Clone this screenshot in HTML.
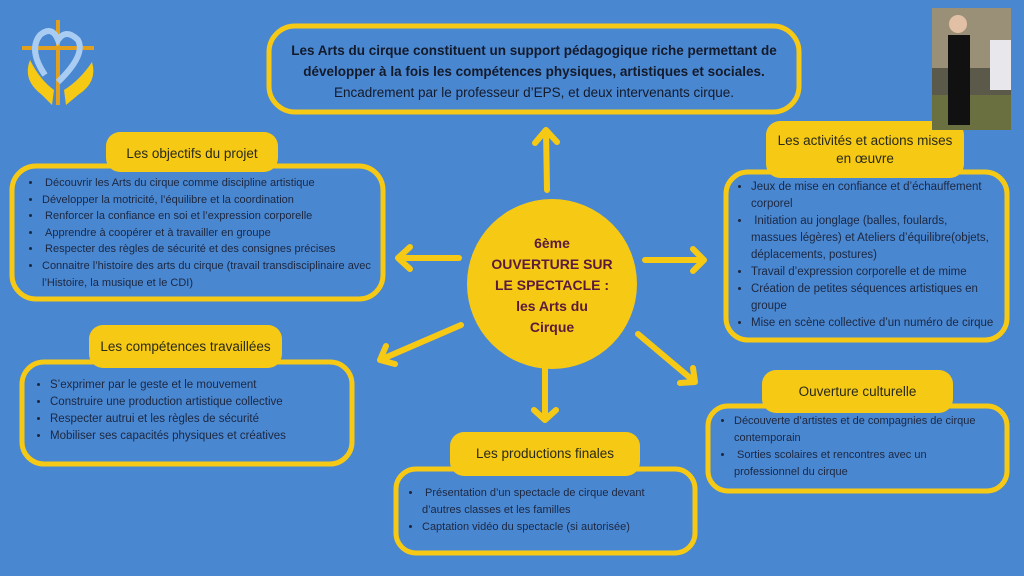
<!DOCTYPE html>
<html><head><meta charset="utf-8"><style>
body{margin:0;width:1024px;height:576px;background:#4a87d1;overflow:hidden;position:relative;font-family:"Liberation Sans","DejaVu Sans",sans-serif;}
svg{position:absolute;left:0;top:0}
.t{position:absolute;color:#1c2740;font-size:11px;line-height:17px}
.t ul{margin:0;padding:0 0 0 14px}
.t li{margin:0}
.h{position:absolute;color:#2a2a1a;font-size:13.5px;text-align:center;line-height:18px}
</style></head><body>
<svg width="1024" height="576">
<g fill="none" stroke="#f6c915" stroke-width="5">
<rect x="269" y="26" width="530" height="86" rx="26"/>
<rect x="12" y="166" width="371" height="133" rx="24"/>
<rect x="22" y="362" width="330" height="102" rx="22"/>
<rect x="396" y="469" width="299" height="84" rx="20"/>
<rect x="708" y="406" width="299" height="85" rx="20"/>
<rect x="726" y="172" width="281" height="168" rx="22"/>
</g>
<g fill="#f6c915">
<rect x="106" y="132" width="172" height="40" rx="14"/>
<rect x="89" y="325" width="193" height="43" rx="14"/>
<rect x="450" y="432" width="190" height="44" rx="14"/>
<rect x="762" y="370" width="191" height="43" rx="14"/>
<rect x="766" y="121" width="198" height="57" rx="14"/>
<circle cx="552" cy="284" r="85"/>
</g>
<g fill="none" stroke="#f6c915" stroke-width="6" stroke-linecap="round" stroke-linejoin="round">
<path d="M547 190 L546 130 M535 143 L546 130 L557 142"/>
<path d="M459 258 L398 258 M410 247 L398 258 L410 269"/>
<path d="M645 260 L704 260 M693 249 L704 260 L693 271"/>
<path d="M461 325 L380 360 M386 346 L380 360 L395 364"/>
<path d="M545 367 L545 420 M534 410 L545 420 L556 410"/>
<path d="M638 334 L695 382 M680 383 L695 382 L693 368"/>
</g>
<rect x="932" y="8" width="79" height="122" fill="#5b5a4a"/>
<rect x="932" y="8" width="79" height="60" fill="#9a8f77"/>
<rect x="932" y="95" width="79" height="35" fill="#6b7040"/>
<rect x="948" y="35" width="22" height="90" fill="#111"/>
<circle cx="958" cy="24" r="9" fill="#e2c0a5"/>
<rect x="990" y="40" width="21" height="50" fill="#e8e8ec"/>
<g>
<path d="M30 60 Q22 80 42 95 L52 105 L54 90 Q40 80 30 60Z" fill="#f6c915"/>
<path d="M92 62 Q98 82 78 95 L66 105 L64 90 Q80 80 92 62Z" fill="#f6c915"/>
<rect x="56" y="20" width="4" height="85" fill="#e3a01c"/>
<rect x="22" y="46" width="72" height="4" fill="#e3a01c"/>
<path d="M45 75 Q28 50 40 35 Q52 25 58 40 Q66 28 78 40 Q86 55 58 82" fill="none" stroke="#a9cdf2" stroke-width="6"/>
</g>
</svg>
<div class="h" style="left:272px;top:40px;width:524px;line-height:21px;color:#131a2a;font-size:13.5px"><b>Les Arts du cirque constituent un support pédagogique riche permettant de développer à la fois les compétences physiques, artistiques et sociales.</b><br>Encadrement par le professeur d’EPS, et deux intervenants cirque.</div>
<div class="h" style="left:106px;top:145px;width:172px">Les objectifs du projet</div>
<div class="h" style="left:89px;top:338px;width:193px">Les compétences travaillées</div>
<div class="h" style="left:450px;top:445px;width:190px">Les productions finales</div>
<div class="h" style="left:762px;top:383px;width:191px">Ouverture culturelle</div>
<div class="h" style="left:776px;top:132px;width:178px">Les activités et actions mises en œuvre</div>
<div class="h" style="left:467px;top:233px;width:170px;color:#5a1a3a;font-weight:bold;font-size:14px;line-height:21px">6ème<br>OUVERTURE SUR<br>LE SPECTACLE :<br>les Arts du<br>Cirque</div>
<div class="t" style="left:28px;top:175px;width:350px;line-height:16.6px"><ul>
<li>&nbsp;Découvrir les Arts du cirque comme discipline artistique</li>
<li>Développer la motricité, l’équilibre et la coordination</li>
<li>&nbsp;Renforcer la confiance en soi et l’expression corporelle</li>
<li>&nbsp;Apprendre à coopérer et à travailler en groupe</li>
<li>&nbsp;Respecter des règles de sécurité et des consignes précises</li>
<li>Connaitre l’histoire des arts du cirque (travail transdisciplinaire avec l’Histoire, la musique et le CDI)</li></ul></div>
<div class="t" style="left:36px;top:377px;width:310px;font-size:11.5px"><ul>
<li>S’exprimer par le geste et le mouvement</li>
<li>Construire une production artistique collective</li>
<li>Respecter autrui et les règles de sécurité</li>
<li>Mobiliser ses capacités physiques et créatives</li></ul></div>
<div class="t" style="left:408px;top:485px;width:262px"><ul>
<li>&nbsp;Présentation d’un spectacle de cirque devant d’autres classes et les familles</li>
<li>Captation vidéo du spectacle (si autorisée)</li></ul></div>
<div class="t" style="left:720px;top:413px;width:268px"><ul>
<li>Découverte d’artistes et de compagnies de cirque contemporain</li>
<li>&nbsp;Sorties scolaires et rencontres avec un professionnel du cirque</li></ul></div>
<div class="t" style="left:737px;top:179px;width:262px;font-size:11.5px"><ul>
<li>Jeux de mise en confiance et d’échauffement corporel</li>
<li>&nbsp;Initiation au jonglage (balles, foulards,<br>massues légères) et Ateliers d’équilibre(objets, déplacements, postures)</li>
<li>Travail d’expression corporelle et de mime</li>
<li>Création de petites séquences artistiques en groupe</li>
<li>Mise en scène collective d’un numéro de cirque</li></ul></div>
</body></html>
